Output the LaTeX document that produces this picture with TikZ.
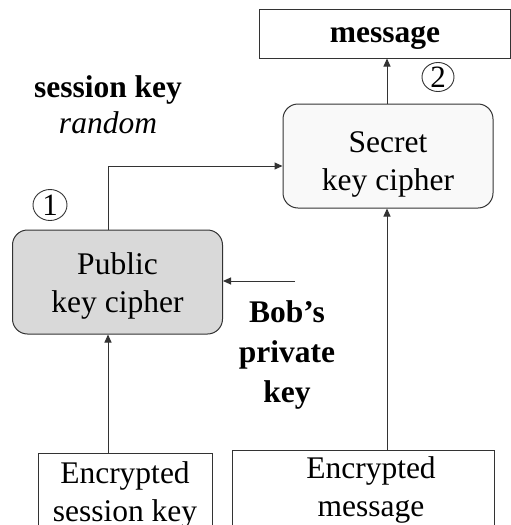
\documentclass[tikz,border=0pt]{standalone}
\usepackage{fontspec}
\setmainfont{Liberation Serif}
\usetikzlibrary{arrows.meta,shapes.geometric}
\definecolor{pubfill}{HTML}{D9D9D9}
\definecolor{secfill}{HTML}{F9F9F9}
\definecolor{ln}{HTML}{333333}
\begin{document}
\begin{tikzpicture}[x=1pt,y=-1pt,
  txt/.style={font=\fontsize{31.5}{38}\selectfont, align=center, inner sep=0pt},
  plainbox/.style={draw=ln, line width=1pt, inner sep=0pt},
  cipher/.style={draw=ln, line width=1pt, rounded corners=15pt, minimum width=210pt, minimum height=104pt, inner sep=0pt},
  arr/.style={draw=ln, line width=1pt, -{Triangle[length=8pt,width=7pt]}},
  num/.style={ellipse, draw=ln, line width=0.9pt, inner sep=0pt, font=\fontsize{31}{31}\selectfont}]
\useasboundingbox (0,0) rectangle (511,525);
\clip (0,0) rectangle (511,525);
% boxes
\node[plainbox, minimum width=251pt, minimum height=49pt] (msg) at (384.5,33.5) {};
\node[txt, font=\fontsize{31.5}{38}\selectfont\bfseries] (msgt) at (385,38) {message};
\node[cipher, fill=secfill] (secret) at (388,156) {};
\node[txt] (secrett) at (388,164) {Secret\\key cipher};
\node[cipher, fill=pubfill] (public) at (117.5,282) {};
\node[txt] (publict) at (117.5,286) {Public\\key cipher};
\node[plainbox, minimum width=174pt, minimum height=92pt] (esk) at (125,499) {};
\node[txt] (eskt) at (125,495) {Encrypted\\session key};
\node[plainbox, minimum width=262pt, minimum height=95pt] (emsg) at (363,497.5) {};
\node[txt] (emsgt) at (371,490) {Encrypted\\message};
% labels
\node[txt, font=\fontsize{31.5}{36}\selectfont] (sk) at (108,105) {\textbf{session key}\\\textit{random}};
\node[txt, font=\fontsize{31.5}{40}\selectfont\bfseries] (bob) at (287,355) {Bob’s\\private\\key};
\node[num, minimum width=34pt, minimum height=31pt] (n1) at (50,205) {1};
\node[num, minimum width=32pt, minimum height=29pt] (n2) at (438,77) {2};
% connectors
\coordinate (c1) at (108,166);
\coordinate (bk) at (295,281);
\draw[arr] (secret.north -| 387,0) -- (msg.south -| 387,0);
\draw[arr] (public.north -| c1) -- (c1) -- (c1 -| secret.west);
\draw[arr] (bk) -- (public.east |- bk);
\draw[arr] (esk.north -| c1) -- (public.south -| c1);
\draw[arr] (emsg.north -| 387,0) -- (secret.south -| 387,0);
\end{tikzpicture}
\end{document}
